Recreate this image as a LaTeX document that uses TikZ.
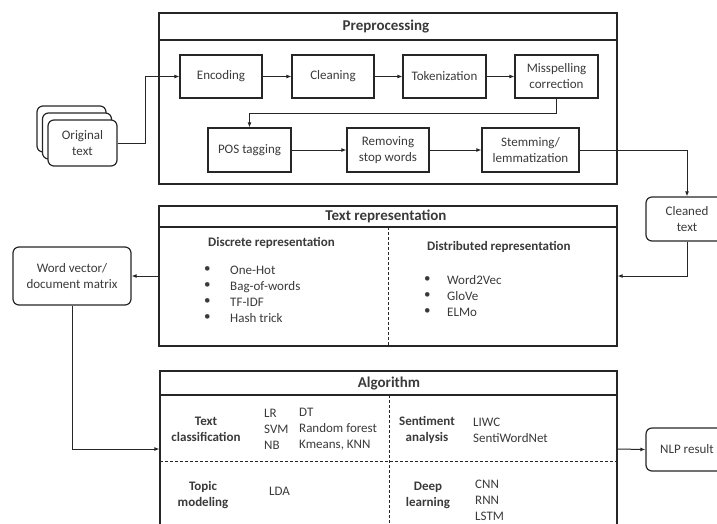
\documentclass[tikz,border=0pt]{standalone}
\usepackage{fontspec}
\setmainfont{Carlito}
\usetikzlibrary{arrows.meta}
\definecolor{txt}{HTML}{3A3A3A}
\definecolor{ln}{HTML}{262626}
\begin{document}
\begin{tikzpicture}[x=1pt,y=-1pt,
  every node/.style={font=\fontsize{13}{16}\selectfont, text=txt, inner sep=0pt, align=center},
  stepbox/.style={draw=ln, line width=1.2pt, minimum height=43pt},
  roundbox/.style={draw=ln, line width=1.2pt, rounded corners=6pt, fill=white},
  frame/.style={draw=ln, line width=1.2pt},
  conn/.style={draw=ln, line width=1pt},
  arr/.style={conn, -{Latex[length=5pt,width=4pt]}},
  sep/.style={draw=ln, line width=0.9pt, dash pattern=on 3pt off 2pt},
  bold/.style={font=\fontsize{13}{16}\selectfont\bfseries},
  headtitle/.style={font=\fontsize{15}{18}\selectfont\bfseries},
  lst/.style={anchor=west, align=left}
]
\useasboundingbox (0,0) rectangle (717,523);
\clip (0,0) rectangle (717,523);

% ---------- Preprocessing frame ----------
\node[frame, minimum width=458pt, minimum height=171pt] (prep) at (388,98.5) {};
\draw[frame] (159,40) -- (617,40);
\node[headtitle] (preptitle) at (386,26.5) {Preprocessing};

\node[stepbox, minimum width=82pt] (enc) at (221,76.5) {Encoding};
\node[stepbox, minimum width=82pt] (cln) at (333,76.5) {Cleaning};
\node[stepbox, minimum width=83pt] (tok) at (444.5,76.5) {Tokenization};
\node[stepbox, minimum width=83pt] (mis) at (556.5,76.5) {Misspelling\\correction};
\node[stepbox, minimum width=83pt, minimum height=44pt] (pos) at (249.5,150) {POS tagging};
\node[stepbox, minimum width=82pt, minimum height=44pt] (rem) at (388,150) {Removing\\stop words};
\node[stepbox, minimum width=97pt, minimum height=44pt] (stem) at (530.5,150) {Stemming/\\lemmatization};

% ---------- Original text stack ----------
\node[roundbox, minimum width=69pt, minimum height=46pt] (orig3) at (71.5,129) {};
\node[roundbox, minimum width=69pt, minimum height=46pt] (orig2) at (77,136) {};
\node[roundbox, minimum width=69pt, minimum height=46pt] (orig) at (82.5,143) {Original\\text};

% ---------- Cleaned text ----------
\node[roundbox, minimum width=82pt, minimum height=44pt] (cleaned) at (687,219) {Cleaned\\text};

% ---------- Text representation frame ----------
\node[frame, minimum width=458pt, minimum height=140pt] (trep) at (388,276) {};
\draw[frame] (159,227) -- (617,227);
\node[headtitle] (treptitle) at (386,216.5) {Text representation};
\draw[sep] (388,227) -- (388,346);
\node[bold, anchor=west] (disc) at (208,243) {Discrete representation};
\node[lst] (discb) at (204,294) {•\\•\\•\\•};
\node[lst] (discl) at (230,294) {One-Hot\\Bag-of-words\\TF-IDF\\Hash trick};
\node[bold, anchor=west] (dist) at (427,247) {Distributed representation};
\node[lst] (distb) at (424,296) {•\\•\\•};
\node[lst] (distl) at (447,296) {Word2Vec\\GloVe\\ELMo};

% ---------- Word vector ----------
\node[roundbox, minimum width=118pt, minimum height=58pt] (wv) at (72,276) {Word vector/\\document matrix};

% ---------- Algorithm frame ----------
\node[frame, minimum width=457pt, minimum height=156pt] (algo) at (388.5,449) {};
\draw[frame] (160,395) -- (617,395);
\node[headtitle] (algotitle) at (389,383) {Algorithm};
\draw[sep] (160,461) -- (617,461);
\draw[sep] (389,395) -- (389,527);
\node[bold] (tc) at (206,429) {Text\\classification};
\node[lst] (tc1) at (264,429) {LR\\SVM\\NB};
\node[lst] (tc2) at (299,429) {DT\\Random forest\\Kmeans, KNN};
\node[bold] (tm) at (203,495) {Topic\\modeling};
\node[lst] (tm1) at (269,491) {LDA};
\node[bold] (sa) at (427,430) {Sentiment\\analysis};
\node[lst] (sa1) at (473,430) {LIWC\\SentiWordNet};
\node[bold] (dl) at (428,495) {Deep\\learning};
\node[lst] (dl1) at (475,500) {CNN\\RNN\\LSTM};

% ---------- NLP result ----------
\node[roundbox, minimum width=82pt, minimum height=43pt] (nlp) at (687,449.5) {NLP result};

% ---------- Connectors ----------
\draw[arr] (orig.east) -- ++(28,0) |- (enc.west);
\draw[arr] (enc) -- (cln);
\draw[arr] (cln) -- (tok);
\draw[arr] (tok) -- (mis);
\draw[arr] (mis.south) -- ++(0,15) -| (pos.north);
\draw[arr] (pos) -- (rem);
\draw[arr] (rem) -- (stem);
\draw[arr] (stem.east) -| (cleaned.north);
\draw[arr] (cleaned.south) |- (trep.east);
\draw[arr] (trep.west) -- (wv.east);
\draw[arr] (wv.south) |- (algo.west);
\draw[arr] (algo.east) -- (nlp.west);
\end{tikzpicture}
\end{document}
